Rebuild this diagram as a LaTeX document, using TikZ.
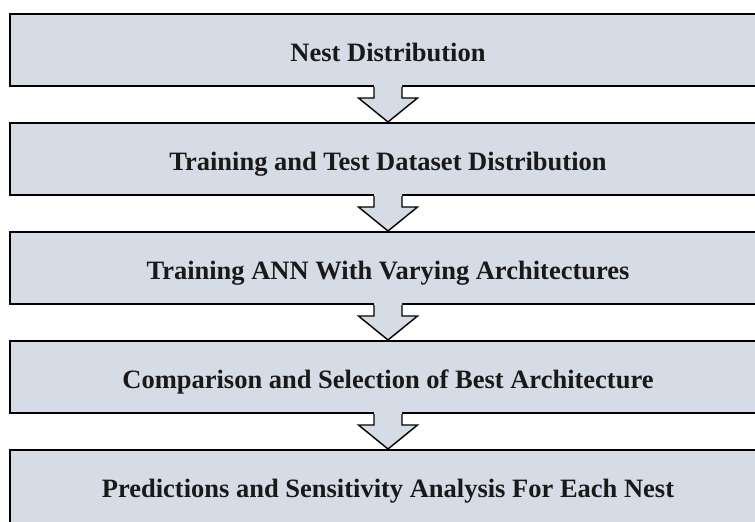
\documentclass[tikz,border=0pt]{standalone}
\usepackage{fontspec}
\setmainfont{Liberation Serif}
\usetikzlibrary{calc}
\definecolor{boxfill}{RGB}{214,220,229}
\tikzset{
  boxtext/.style={font=\fontsize{26.5}{29}\selectfont\bfseries, inner sep=0pt, anchor=base, text=black!90},
  stepbox/.style={draw=black, line width=2pt, fill=boxfill, minimum width=756pt, minimum height=72pt, inner sep=0pt},
  flowarrow/.style={draw=black, line width=1.4pt, line join=miter},
}
\newcommand{\flowdown}[2]{%
  \fill[boxfill] ($(#1.south)+(-14pt,2pt)$) -- ($(#1.south)+(-14pt,-11pt)$) -- ($(#1.south)+(-29.5pt,-11pt)$) -- (#2.north) -- ($(#1.south)+(29.5pt,-11pt)$) -- ($(#1.south)+(14pt,-11pt)$) -- ($(#1.south)+(14pt,2pt)$) -- cycle;
  \draw[flowarrow] ($(#1.south)+(-14pt,0pt)$) -- ($(#1.south)+(-14pt,-11pt)$) -- ($(#1.south)+(-29.5pt,-11pt)$) -- (#2.north) -- ($(#1.south)+(29.5pt,-11pt)$) -- ($(#1.south)+(14pt,-11pt)$) -- ($(#1.south)+(14pt,0pt)$);
}
\begin{document}
\begin{tikzpicture}[x=1pt,y=-1pt]
\useasboundingbox (0,0) rectangle (755,522);
\begin{scope}
\clip (0,0) rectangle (755,522);
\node[stepbox] (b1) at (388,50) {};
\node[stepbox] (b2) at (388,159) {};
\node[stepbox] (b3) at (388,268) {};
\node[stepbox] (b4) at (388,377) {};
\node[stepbox, minimum height=90pt] (b5) at (388,495) {};
\node[boxtext] (t1) at ($(b1.center)+(0,11)$) {Nest Distribution};
\node[boxtext] (t2) at ($(b2.center)+(0,11)$) {Training and Test Dataset Distribution};
\node[boxtext] (t3) at ($(b3.center)+(0,11)$) {Training ANN With Varying Architectures};
\node[boxtext] (t4) at ($(b4.center)+(0,11)$) {Comparison and Selection of Best Architecture};
\node[boxtext] (t5) at (388,497) {Predictions and Sensitivity Analysis For Each Nest};
\flowdown{b1}{b2}
\flowdown{b2}{b3}
\flowdown{b3}{b4}
\flowdown{b4}{b5}
\end{scope}
\end{tikzpicture}
\end{document}
